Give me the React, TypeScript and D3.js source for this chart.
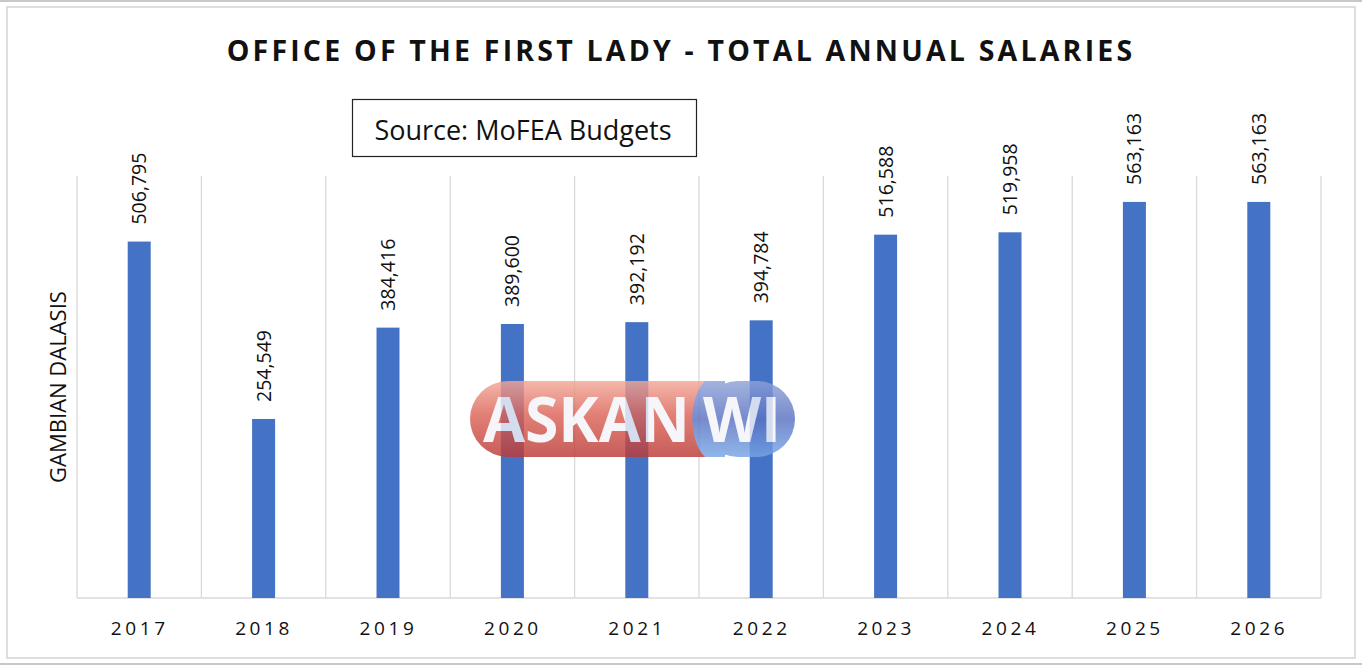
import React from "react";
import * as d3 from "d3";

const years = ["2017", "2018", "2019", "2020", "2021", "2022", "2023", "2024", "2025", "2026"];
const salaries = [506795, 254549, 384416, 389600, 392192, 394784, 516588, 519958, 563163, 563163];
const titleText = "OFFICE OF THE FIRST LADY - TOTAL ANNUAL SALARIES";
const sourceText = "Source: MoFEA Budgets";
const yAxisLabel = "GAMBIAN DALASIS";
const yMax = 600000;

const W = 1362;
const H = 665;
const plot = { left: 77, right: 1321, top: 176, bottom: 598 };
const FONT = "'Open Sans', 'Noto Sans', sans-serif";

export default function App() {
  const x = d3.scaleBand<string>().domain(years).range([plot.left, plot.right]).paddingInner(0).paddingOuter(0);
  const y = d3.scaleLinear().domain([0, yMax]).range([plot.bottom, plot.top]);
  const bw = 23;
  const fmt = d3.format(",");
  const gridXs = years.map((yr) => x(yr)!).concat([plot.right]);

  return (
    <svg width={W} height={H} style={{ position: "absolute", left: 0, top: 0, background: "#fff" }}>
      <defs>
        <linearGradient id="redG" x1="0" y1="0" x2="0" y2="1">
          <stop offset="0" stopColor="#f2a898" />
          <stop offset="0.45" stopColor="#dc6356" />
          <stop offset="1" stopColor="#bb3a36" />
        </linearGradient>
        <linearGradient id="blueG" x1="0" y1="0" x2="0" y2="1">
          <stop offset="0" stopColor="#8fa2d8" />
          <stop offset="0.5" stopColor="#5a72c2" />
          <stop offset="1" stopColor="#78a6e6" />
        </linearGradient>
      </defs>
      <rect x={0} y={0} width={W} height={H} fill="#fff" />
      <line x1={0} x2={W} y1={1} y2={1} stroke="#c8c8c8" strokeWidth={2} />
      <line x1={0} x2={W} y1={664} y2={664} stroke="#c8c8c8" strokeWidth={2} />
      <rect x={7} y={7} width={1348} height={651} fill="none" stroke="#d4d4d4" strokeWidth={1.5} />

      <text x={681} y={61} textAnchor="middle" fontFamily={FONT} fontWeight={700} fontSize={28.5}
        letterSpacing={3.2} fill="#111">{titleText}</text>

      <rect x={352.5} y={99.5} width={344} height={57} fill="#fff" stroke="#222" strokeWidth={1.2} />
      <text x={523} y={140} textAnchor="middle" fontFamily={FONT} fontSize={27} fill="#111">{sourceText}</text>

      {gridXs.map((gx, i) => (
        <line key={"g" + i} x1={gx} x2={gx} y1={plot.top} y2={plot.bottom} stroke="#d9d9d9" strokeWidth={1.3} />
      ))}
      <line x1={plot.left} x2={plot.right} y1={plot.bottom} y2={plot.bottom} stroke="#d9d9d9" strokeWidth={1.5} />

      {years.map((yr, i) => {
        const cx = x(yr)! + x.bandwidth() / 2;
        return (
          <rect key={"b" + yr} x={cx - bw / 2} y={y(salaries[i])} width={bw} height={plot.bottom - y(salaries[i])} fill="#4472C4" />
        );
      })}

      {years.map((yr, i) => {
        const cx = x(yr)! + x.bandwidth() / 2;
        const ty = y(salaries[i]) - 17;
        return (
          <text key={"l" + yr} transform={`translate(${cx + 7},${ty}) rotate(-90)`} fontFamily={FONT} fontSize={19.5}
            fill="#111">{fmt(salaries[i])}</text>
        );
      })}

      {years.map((yr) => {
        const cx = x(yr)! + x.bandwidth() / 2;
        return (
          <text key={"t" + yr} x={cx + 0.5} y={635} textAnchor="middle" fontFamily={FONT} fontSize={19}
            letterSpacing={3.6} fill="#111">{yr}</text>
        );
      })}

      <text transform={`translate(66,${(plot.top + plot.bottom) / 2}) rotate(-90)`} textAnchor="middle"
        fontFamily={FONT} fontSize={22} fill="#111">{yAxisLabel}</text>

      <g opacity={0.82}>
        <rect x={470} y={381} width={280} height={76} rx={38} fill="url(#redG)" />
        <rect x={700} y={381} width={95} height={76} rx={38} fill="url(#blueG)" />
        <path d="M705,381 C688,398 688,440 705,457 L725,457 L725,381 Z" fill="url(#blueG)" />
        <text x={483} y={442} fontFamily={FONT} fontWeight={700} fontSize={62} fill="#f4f4fa" textLength={207} lengthAdjust="spacingAndGlyphs">ASKAN</text>
        <text x={703} y={442} fontFamily={FONT} fontWeight={700} fontSize={62} fill="#f4f4fa" textLength={78} lengthAdjust="spacingAndGlyphs">WI</text>
      </g>
    </svg>
  );
}
